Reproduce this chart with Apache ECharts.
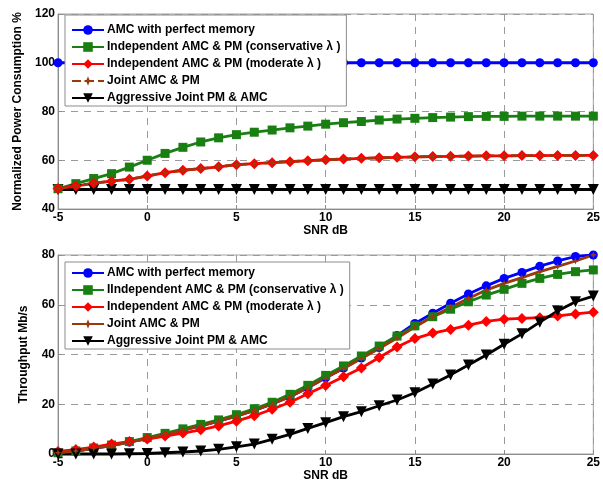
<!DOCTYPE html>
<html>
<head>
<meta charset="utf-8">
<script src="https://cdn.jsdelivr.net/npm/echarts@6/dist/echarts.min.js"></script>
<style>
html,body{margin:0;padding:0;background:#fff;}
#chart{width:603px;height:483px;}
</style>
</head>
<body>
<div id="chart"></div>
<script>
// SNR (dB) values
const snr = [-5,-4,-3,-2,-1,0,1,2,3,4,5,6,7,8,9,10,11,12,13,14,15,16,17,18,19,20,21,22,23,24,25];
const xTicks = [-5,0,5,10,15,20,25];

// Top panel: Normalized Power Consumption %
const powerPerfect = [100,100,100,100,100,100,100,100,100,100,100,100,100,100,100,100,100,100,100,100,100,100,100,100,100,100,100,100,100,100,100];
const powerConservative = [48.3,50.4,52.5,54.5,57.2,60.0,62.8,65.3,67.5,69.2,70.5,71.5,72.4,73.3,74.0,74.8,75.4,75.9,76.5,76.9,77.2,77.5,77.7,77.9,78.0,78.0,78.1,78.1,78.1,78.1,78.1];
const powerModerate = [48.4,49.4,50.6,51.4,52.2,53.5,54.9,55.9,56.6,57.3,58.2,58.6,59.0,59.4,59.8,60.2,60.5,60.8,61.0,61.2,61.4,61.5,61.6,61.7,61.8,61.8,61.9,61.9,62.0,62.0,62.0];
const powerJoint = [48.4,49.4,50.6,51.4,52.2,53.5,54.9,55.9,56.6,57.3,58.2,58.6,59.0,59.4,59.8,60.2,60.5,60.8,61.0,61.2,61.4,61.5,61.6,61.7,61.8,61.8,61.9,61.9,62.0,62.0,62.0];
const powerAggressive = [48,48,48,48,48,48,48,48,48,48,48,48,48,48,48,48,48,48,48,48,48,48,48,48,48,48,48,48,48,48,48];

// Bottom panel: Throughput Mb/s
const thrPerfect = [0.5,1.2,2.3,3.4,4.8,6.3,7.9,9.6,11.3,13.2,15.2,17.5,20.1,23.0,26.6,30.6,34.5,38.6,42.8,47.6,52.5,56.6,60.6,64.3,67.6,70.6,73.0,75.5,77.6,79.4,80.0];
const thrConservative = [0.5,1.2,2.4,3.6,5.0,6.6,8.3,10.1,11.9,13.7,15.8,18.2,20.8,24.0,27.6,31.6,35.4,39.4,43.4,47.4,51.5,55.2,58.2,61.2,63.9,66.2,68.6,70.6,72.2,73.3,74.0];
const thrModerate = [1.0,1.8,2.8,4.0,5.0,6.0,7.2,8.4,9.7,11.3,13.2,15.4,18.0,20.8,24.2,27.5,31.1,34.6,38.8,43.0,46.4,48.6,50.1,51.8,53.3,54.2,54.5,54.8,55.5,56.3,57.0];
const thrJoint = [0.5,1.2,2.3,3.4,4.8,6.3,7.9,9.6,11.3,13.2,15.2,17.5,20.1,23.0,26.6,30.6,34.4,38.4,42.4,46.6,51.0,55.3,59.0,62.5,65.9,68.6,70.9,73.3,75.4,77.6,80.0];
const thrAggressive = [0,0,0,0,0.1,0.2,0.5,0.8,1.2,1.9,2.9,4.0,5.9,7.9,10.3,12.6,15.0,17.0,19.4,21.7,24.6,28.1,31.8,35.8,39.8,44.1,48.3,53.0,57.5,61.2,63.5];

const topNames = ['AMC with perfect memory','Independent AMC & PM (conservative λ )','Independent AMC & PM (moderate λ )','Joint AMC & PM','Aggressive Joint PM & AMC'];
const botNames = ['AMC with perfect memory ','IIndependent AMC & PM (conservative λ )','Independent AMC & PM (moderate λ ) ','Joint AMC & PM ','Aggressive Joint PM & AMC '];

const BLUE='#0000ff', GREEN='#1a7f12', RED='#ff0000', BROWN='#9a3a0c', BLACK='#000000';
const FONT='Liberation Sans';
const star='path://M0,-1L0.28,-0.28L1,0L0.28,0.28L0,1L-0.28,0.28L-1,0L-0.28,-0.28Z';

function zip(v){ return snr.map((x,i)=>[x,v[i]]); }

function mk(name, vals, gi, color, symbol, size, extra){
  const s = {
    name: name, type:'line', xAxisIndex:gi, yAxisIndex:gi,
    data: zip(vals), symbol: symbol, symbolSize: size,
    showAllSymbol:true, animation:false, clip:false,
    lineStyle:{color:color, width:2.8},
    itemStyle:{color:color, borderColor:color, borderWidth:0}
  };
  return Object.assign(s, extra||{});
}

const axisCommon = {
  axisLine:{show:true, onZero:false, lineStyle:{color:'#8c8c8c', width:1}},
  axisTick:{show:true, inside:true, length:4, lineStyle:{color:'#8c8c8c'}},
  splitLine:{show:true, lineStyle:{color:'#9a9a9a', type:[7,6], width:1}},
  axisLabel:{color:'#000', fontFamily:FONT, fontWeight:'bold', fontSize:12},
  nameTextStyle:{color:'#000', fontFamily:FONT, fontWeight:'bold', fontSize:12}
};

function xa(gi){
  return Object.assign({}, axisCommon, {
    type:'value', gridIndex:gi, min:-5, max:25, interval:5,
    name:'SNR dB', nameLocation:'middle', nameGap:15,
    axisLabel:Object.assign({}, axisCommon.axisLabel, {margin:3})
  });
}
function ya(gi, min, max, name, gap){
  return Object.assign({}, axisCommon, {
    type:'value', gridIndex:gi, min:min, max:max, interval:20,
    name:name, nameLocation:'middle', nameGap:gap,
    axisLabel:Object.assign({}, axisCommon.axisLabel, {margin:3})
  });
}

const legendCommon = {
  orient:'vertical', backgroundColor:'#fff', borderColor:'#8c8c8c', borderWidth:1,
  itemGap:5, itemWidth:32, itemHeight:12,
  textStyle:{color:'#000', fontFamily:FONT, fontWeight:'bold', fontSize:12, padding:[0,0,0,-2]},
  z:10
};

const option = {
  backgroundColor:'#fff',
  animation:false,
  grid:[
    {left:58, right:9, top:14, height:195, show:true, borderColor:'#a0a0a0', borderWidth:1, backgroundColor:'transparent'},
    {left:58, right:9, top:255, height:199, show:true, borderColor:'#a0a0a0', borderWidth:1, backgroundColor:'transparent'}
  ],
  xAxis:[xa(0), xa(1)],
  yAxis:[ya(0,40,120,'Normalized Power Consumption %',33), ya(1,0,80,'Throughput Mb/s',28)],
  legend:[
    Object.assign({}, legendCommon, {left:65, top:15, padding:[9,6,2,6], data:topNames}),
    Object.assign({}, legendCommon, {left:65, top:262, padding:[5,6,2,6], data:botNames})
  ],
  series:[
    mk(topNames[4], powerAggressive, 0, BLACK, 'triangle', 11, {symbolRotate:180}),
    mk(topNames[1], powerConservative, 0, GREEN, 'rect', 9),
    mk(topNames[2], powerModerate, 0, RED, 'diamond', 11),
    mk(topNames[3], powerJoint, 0, BROWN, star, 7, {lineStyle:{color:BROWN, width:2.8, type:[9,4]}}),
    mk(topNames[0], powerPerfect, 0, BLUE, 'circle', 9),

    mk(botNames[0], thrPerfect, 1, BLUE, 'circle', 9),
    mk(botNames[1], thrConservative, 1, GREEN, 'rect', 9),
    mk(botNames[2], thrModerate, 1, RED, 'diamond', 11),
    mk(botNames[4], thrAggressive, 1, BLACK, 'triangle', 11, {symbolRotate:180}),
    mk(botNames[3], thrJoint, 1, BROWN, star, 7)
  ]
};

const chart = echarts.init(document.getElementById('chart'), null, {renderer:'canvas'});
chart.setOption(option);
</script>
</body>
</html>
